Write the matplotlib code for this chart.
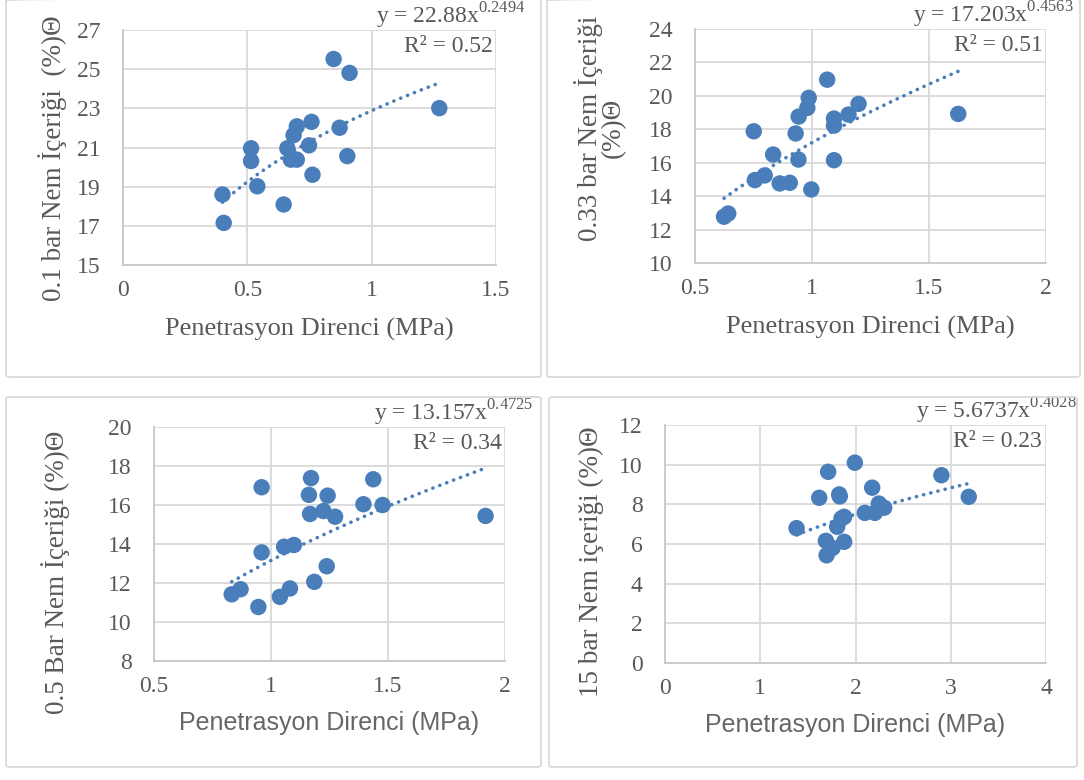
import numpy as np
import matplotlib
matplotlib.use("Agg")
import matplotlib.pyplot as plt
from matplotlib.patches import FancyBboxPatch

plt.rcParams["font.family"] = ["Liberation Serif", "DejaVu Serif"]

# 0.1 bar
x1 = [0.40, 0.405, 0.515, 0.515, 0.54, 0.646, 0.661, 0.675, 0.686, 0.699, 0.699,
      0.748, 0.758, 0.762, 0.847, 0.871, 0.911, 0.902, 1.272]
y1 = [18.6, 17.15, 20.96, 20.31, 19.02, 18.09, 20.96, 20.38, 21.63, 22.08, 20.38,
      21.11, 22.31, 19.61, 25.52, 22.01, 24.81, 20.56, 23.01]

# 0.33 bar
x2 = [0.624, 0.642, 0.751, 0.756, 0.798, 0.834, 0.862, 0.905, 0.930, 0.942, 0.943,
      0.980, 0.986, 0.997, 1.065, 1.094, 1.094, 1.094, 1.156, 1.199, 1.625]
y2 = [12.77, 12.96, 17.88, 14.96, 15.24, 16.49, 14.76, 14.80, 17.75, 16.19, 18.76,
      19.28, 19.88, 14.40, 20.97, 18.64, 18.22, 16.15, 18.88, 19.52, 18.92]

# 0.5 bar
x3 = [0.832, 0.870, 0.946, 0.960, 0.960, 1.038, 1.056, 1.081, 1.098, 1.167, 1.162,
      1.171, 1.185, 1.224, 1.242, 1.238, 1.274, 1.395, 1.437, 1.477, 1.917]
y3 = [11.42, 11.68, 10.77, 16.91, 13.57, 11.29, 13.86, 11.72, 13.95, 15.54, 16.52,
      17.38, 12.06, 15.69, 16.48, 12.86, 15.40, 16.04, 17.32, 16.00, 15.44]

# 15 bar
x4 = [1.381, 1.619, 1.696, 1.689, 1.713, 1.759, 1.808, 1.829, 1.835, 1.853, 1.881,
      1.881, 1.993, 2.098, 2.175, 2.203, 2.245, 2.301, 2.902, 3.189]
y4 = [6.80, 8.33, 5.43, 6.16, 9.64, 5.80, 6.87, 8.50, 8.40, 7.29, 7.37,
      6.11, 10.10, 7.57, 8.84, 7.57, 8.04, 7.83, 9.47, 8.38]

coefs = [(22.88, 0.2494), (17.203, 0.4563), (13.157, 0.4725), (5.6737, 0.4028)]
r2 = ["0.52", "0.51", "0.34", "0.23"]
ylabels = ["0.1 bar Nem İçeriği  (%)Θ", "0.33 bar Nem İçeriği\n(%)Θ",
           "0.5 Bar Nem İçeriği (%)Θ", "15 bar Nem içeriği (%)Θ"]
xlims = [(0, 1.5), (0.5, 2), (0.5, 2), (0, 4)]
xticks = [[0, 0.5, 1, 1.5], [0.5, 1, 1.5, 2], [0.5, 1, 1.5, 2], [0, 1, 2, 3, 4]]
ylims = [(15, 27), (10, 24), (8, 20), (0, 12)]

blue = "#4a7ebb"
txt = "#595959"
grid = "#d9d9d9"

fig = plt.figure(figsize=(10.84, 7.8), dpi=100)

# panel frames (pixels: x0, y0, x1, y1 from top-left)
frames = [(6, -2, 541, 377), (547, -2, 1080, 377), (6, 397, 541, 767), (549, 397, 1077, 767)]
for fx0, fy0, fx1, fy1 in frames:
    fig.patches.append(FancyBboxPatch(
        (fx0 / 1084, 1 - fy1 / 780), (fx1 - fx0) / 1084, (fy1 - fy0) / 780,
        boxstyle="round,pad=0,rounding_size=0.003", transform=fig.transFigure,
        facecolor="none", edgecolor=grid, lw=1.3))

# axes areas (pixels)
boxes = [(123, 30, 496, 265), (695, 29, 1046, 263), (154, 427, 505, 661), (665, 425, 1046, 663)]
# y-label centres (pixels)
ylab_pos = [(53, 158), (600, 128), (56, 572), (591, 562)]

xs = [x1, x2, x3, x4]
ys = [y1, y2, y3, y4]
for i in range(4):
    bx0, by0, bx1, by1 = boxes[i]
    ax = fig.add_axes([bx0 / 1084, 1 - by1 / 780, (bx1 - bx0) / 1084, (by1 - by0) / 780])
    ax.set_xlim(*xlims[i])
    ax.set_ylim(*ylims[i])
    ax.set_xticks(xticks[i])
    ax.set_xticklabels([f"{t:g}" for t in xticks[i]])
    ax.set_yticks(np.arange(ylims[i][0], ylims[i][1] + 1, 2))
    ax.grid(True, color=grid, lw=1.3)
    ax.set_axisbelow(True)
    for s in ["top", "right"]:
        ax.spines[s].set_visible(False)
    for s in ["left", "bottom"]:
        ax.spines[s].set_color("#c8c8c8")
        ax.spines[s].set_linewidth(1.3)
    ax.tick_params(length=0, labelsize=17, labelcolor=txt)
    ax.tick_params(axis="y", pad=16)
    ax.tick_params(axis="x", pad=11)

    ax.scatter(xs[i], ys[i], s=140, color=blue, edgecolors="none", zorder=3, clip_on=False)
    a, b = coefs[i]
    xx = np.linspace(min(xs[i]), max(xs[i]), 200)
    ax.plot(xx, a * xx ** b, color=blue, lw=2.6, ls=(0, (0.05, 2.0)),
            dash_capstyle="round", zorder=4)

    if i < 2:
        ax.set_xlabel("Penetrasyon Direnci (MPa)", fontsize=19, color=txt, labelpad=12)
    else:
        ax.set_xlabel("Penetrasyon Direnci (MPa)", fontsize=18, color="#666666", labelpad=10,
                      family=["Liberation Sans Narrow", "Liberation Sans", "DejaVu Sans"])
    ax.set_ylabel(ylabels[i], fontsize=19.5, color=txt, linespacing=0.85, va="center")
    lx, ly = ylab_pos[i]
    ax.yaxis.set_label_coords((lx - bx0) / (bx1 - bx0), (by1 - ly) / (by1 - by0))

    ax.text(1.08, 1.06, f"y = {a:g}x$^{{\\mathregular{{{b:g}}}}}$",
            transform=ax.transAxes, ha="right", va="center", fontsize=17, color=txt)
    ax.text(0.99, 0.93, f"R² = {r2[i]}", transform=ax.transAxes,
            ha="right", va="center", fontsize=17, color=txt)

fig.savefig("out.png", dpi=100, facecolor="white")
